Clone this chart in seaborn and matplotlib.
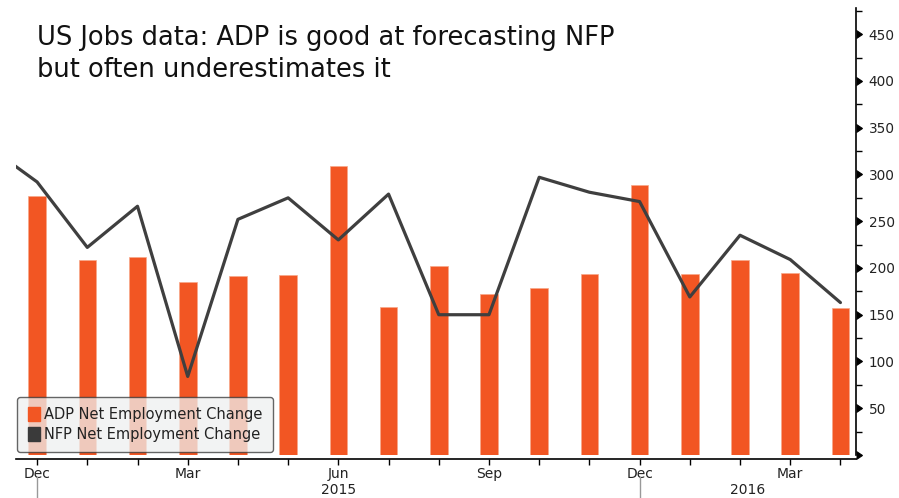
import numpy as np
import pandas as pd
import seaborn as sns
import matplotlib.pyplot as plt
import matplotlib.lines as mlines
import matplotlib.patches as mpatches
import matplotlib.transforms as mtransforms

# months Dec 2014 .. Apr 2016 (index 0..16); NFP also has Nov 2014 at index -1
months = ['Dec', 'Jan', 'Feb', 'Mar', 'Apr', 'May', 'Jun', 'Jul', 'Aug', 'Sep',
          'Oct', 'Nov', 'Dec', 'Jan', 'Feb', 'Mar', 'Apr']
adp = [277, 208, 212, 185, 191, 193, 309, 158, 202, 172, 179, 194,
       289, 194, 208, 195, 157]
nfp_idx = list(range(-1, 17))
nfp = [331, 292, 222, 266, 84, 252, 275, 230, 279, 150, 150, 297, 281,
       271, 169, 235, 209, 163]
label_idx = [0, 3, 6, 9, 12, 15]
year_labels = ['2015', '2016']
year_pos = [6, 14.15]
year_breaks = [0, 12]

bar_color = '#F25623'
line_color = '#3f3f3f'
text_color = '#222222'

sns.set_style('white')
plt.rcParams['font.family'] = ['DejaVu Sans']

fig = plt.figure(figsize=(8.99, 4.98), dpi=100)
ax = fig.add_axes([16 / 899, 1 - 455 / 498, 840 / 899, 447 / 498])

bars = pd.DataFrame({'x': range(len(adp)), 'adp': adp})
sns.barplot(data=bars, x='x', y='adp', native_scale=True, width=0.35,
            color=bar_color, saturation=1, ax=ax, edgecolor='#f7a889',
            linewidth=0.5, zorder=2)
line = pd.DataFrame({'x': nfp_idx, 'nfp': nfp})
sns.lineplot(data=line, x='x', y='nfp', color=line_color, linewidth=2.3,
             ax=ax, zorder=3)

ax.set_xlim(-0.42, 16.31)
ax.set_ylim(0, 478)
ax.set_xlabel('')
ax.set_ylabel('')

# spines
for s in ['top', 'left']:
    ax.spines[s].set_visible(False)
ax.spines['right'].set_color('black')
ax.spines['bottom'].set_color('black')
ax.spines['bottom'].set_position(('outward', 3))
ax.spines['right'].set_linewidth(1.2)
ax.spines['bottom'].set_linewidth(1.2)

# y axis on the right
ax.yaxis.tick_right()
ax.set_yticks(range(0, 451, 50))
ax.set_yticklabels([''] + [str(v) for v in range(50, 451, 50)])
ax.set_yticks(range(25, 476, 50), minor=True)
ax.tick_params(axis='y', which='major', length=0, pad=9, labelsize=9.8,
               labelcolor=text_color, right=True, left=False)
ax.tick_params(axis='y', which='minor', length=4, width=1, color='black',
               right=True, left=False)
for t in ax.yaxis.get_major_ticks():
    t.tick2line.set_marker(mlines.CARETRIGHTBASE)
    t.tick2line.set_markersize(6)
    t.tick2line.set_color('black')
    t.tick2line.set_markerfacecolor('black')
    t.tick2line.set_markeredgecolor('black')

# x axis
ax.set_xticks(range(len(months)))
ax.set_xticklabels([m if i in label_idx else '' for i, m in enumerate(months)])
ax.tick_params(axis='x', length=4, width=1, color='black', direction='out',
               pad=1.5, labelsize=10, labelcolor=text_color, bottom=True)

trans = mtransforms.blended_transform_factory(ax.transData, ax.transAxes)
for lbl, pos in zip(year_labels, year_pos):
    ax.text(pos, -0.078, lbl, transform=trans, ha='center', va='center',
            fontsize=10, color=text_color)
for b in year_breaks:
    ax.plot([b, b], [-0.05, -0.1], transform=trans, color='#999999',
            linewidth=1, clip_on=False)

# legend
handles = [mpatches.Patch(color=bar_color, label='ADP Net Employment Change'),
           mpatches.Patch(color='#3a3a3a', label='NFP Net Employment Change')]
leg = ax.legend(handles=handles, loc='lower left', bbox_to_anchor=(0.0, 0.003),
                frameon=True, fontsize=10.5, handlelength=0.85, handleheight=1.1,
                handletextpad=0.3, borderpad=0.7, labelspacing=0.35,
                fancybox=True, borderaxespad=0.1)
leg.get_frame().set_facecolor('#eef0f0')
leg.get_frame().set_alpha(0.75)
leg.get_frame().set_edgecolor('#333333')
leg.get_frame().set_linewidth(1)
for txt in leg.get_texts():
    txt.set_color(text_color)

fig.text(37 / 899, 1 - 25 / 498,
         'US Jobs data: ADP is good at forecasting NFP\nbut often underestimates it',
         ha='left', va='top', fontsize=18.5, color='#111111', linespacing=1.32)

fig.savefig('out.png', dpi=100)
